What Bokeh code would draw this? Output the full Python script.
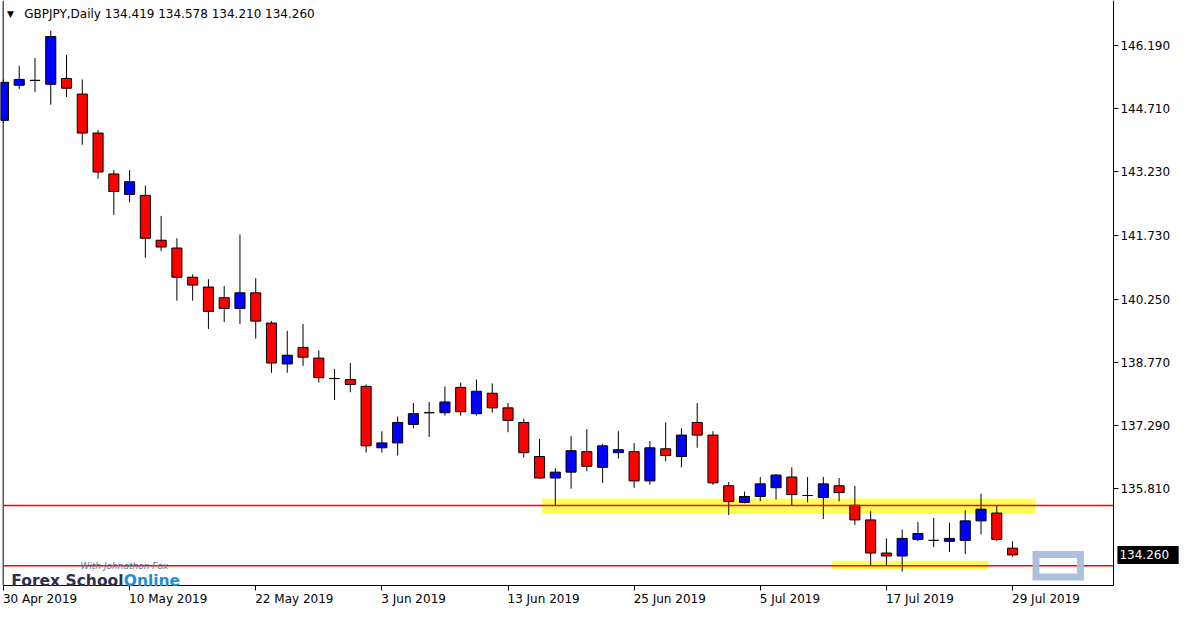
from bokeh.plotting import figure
from bokeh.models import (ColumnDataSource, Range1d, FixedTicker, PrintfTickFormatter,
                          CustomJSTickFormatter, Label)
from bokeh.embed import file_html
from bokeh.resources import INLINE

# ---------------- data ----------------
symbol_title = "GBPJPY,Daily  134.419 134.578 134.210 134.260"
date_labels = ["30 Apr 2019", "10 May 2019", "22 May 2019", "3 Jun 2019", "13 Jun 2019",
               "25 Jun 2019", "5 Jul 2019", "17 Jul 2019", "29 Jul 2019"]
date_ticks = [0, 8, 16, 24, 32, 40, 48, 56, 64]
price_ticks = [146.190, 144.710, 143.230, 141.730, 140.250, 138.770, 137.290, 135.810]
last_price = 134.260

opens = [144.432, 145.253, 145.367, 145.276, 145.412, 145.047, 144.135, 143.177, 142.698, 142.675,
         141.626, 141.444, 140.760, 140.531, 140.281, 140.030, 140.395, 139.688, 138.730, 139.117,
         138.867, 138.388, 138.365, 138.205, 136.768, 136.882, 137.315, 137.589, 137.589, 138.182,
         137.566, 138.045, 137.703, 137.361, 136.563, 136.061, 136.198, 136.677, 136.312, 136.654,
         136.677, 135.993, 136.745, 136.563, 137.361, 137.065, 135.879, 135.491, 135.628, 135.833,
         136.084, 135.651, 135.605, 135.879, 135.423, 135.080, 134.305, 134.236, 134.624, 134.601,
         134.579, 134.601, 135.058, 135.240, 134.419]
highs = [145.390, 145.709, 145.891, 146.530, 145.960, 145.390, 144.204, 143.268, 143.268, 142.904,
         142.196, 141.672, 140.828, 140.714, 140.554, 141.763, 140.737, 139.733, 139.505, 139.665,
         139.049, 138.616, 138.752, 138.251, 137.156, 137.498, 137.817, 137.840, 138.205, 138.296,
         138.365, 138.274, 137.817, 137.452, 136.973, 136.289, 137.042, 137.202, 136.859, 137.156,
         136.882, 136.928, 137.361, 137.224, 137.817, 137.156, 135.970, 135.742, 136.084, 136.152,
         136.312, 136.084, 136.084, 136.061, 135.879, 135.286, 134.647, 134.852, 135.035, 135.126,
         135.012, 135.308, 135.696, 135.423, 134.578]
lows = [144.386, 145.162, 145.093, 144.797, 144.979, 143.861, 143.063, 142.219, 142.516, 141.216,
        141.375, 140.212, 140.212, 139.551, 139.710, 139.665, 139.323, 138.524, 138.524, 138.684,
        138.296, 137.886, 138.068, 136.654, 136.654, 136.586, 137.224, 137.019, 137.521, 137.521,
        137.521, 137.589, 137.133, 136.540, 136.038, 135.423, 135.810, 136.221, 135.947, 136.517,
        135.833, 135.901, 136.449, 136.312, 136.768, 135.901, 135.194, 135.468, 135.514, 135.559,
        135.423, 135.491, 135.103, 135.514, 134.966, 134.008, 134.008, 133.872, 134.579, 134.442,
        134.328, 134.282, 134.738, 134.579, 134.210]
closes = [145.321, 145.390, 145.367, 146.393, 145.184, 144.135, 143.223, 142.767, 142.995, 141.672,
          141.467, 140.760, 140.577, 139.961, 140.030, 140.395, 139.733, 138.752, 138.935, 138.889,
          138.410, 138.388, 138.251, 136.814, 136.882, 137.361, 137.566, 137.589, 137.840, 137.612,
          138.091, 137.703, 137.407, 136.654, 136.061, 136.198, 136.700, 136.335, 136.814, 136.723,
          135.993, 136.768, 136.586, 137.065, 137.065, 135.947, 135.514, 135.628, 135.924, 136.130,
          135.673, 135.651, 135.924, 135.719, 135.080, 134.305, 134.236, 134.647, 134.761, 134.601,
          134.647, 135.058, 135.331, 134.624, 134.260]

hline_levels = [135.417, 134.008]
zone_left = [34.17, 52.56]
zone_right = [65.44, 62.45]
zone_bottom = [135.217, 133.917]
zone_top = [135.582, 134.122]

# ---------------- scales (reference pixel -> data) ----------------
BAR_PX = 15.98          # reference pixels per bar
PRICE_PER_PX = 0.022808  # reference price per pixel
TOP_PRICE = 147.237
REF_W, REF_H = 1200, 627
W, H = 1184, 611


def xd(px):
    return (px - 3.0) / BAR_PX


def yd(py):
    return TOP_PRICE - PRICE_PER_PX * py


FONT = "DejaVu Sans"
CHART_LEFT, CHART_RIGHT, CHART_BOTTOM = xd(2.7), xd(1128), yd(600)

p = figure(width=W, height=H,
           x_range=Range1d(xd(0), xd(REF_W)),
           y_range=Range1d(yd(REF_H), yd(0)),
           y_axis_location="right",
           output_backend="svg", toolbar_location=None,
           min_border_left=0, min_border_right=0, min_border_top=0, min_border_bottom=0)
p.background_fill_color = "white"
p.border_fill_color = "white"
p.outline_line_color = None
p.grid.visible = False

# price axis (fixed at the chart's right edge)
ya = p.yaxis[0]
ya.fixed_location = CHART_RIGHT
ya.bounds = (CHART_BOTTOM, yd(0))
ya.ticker = FixedTicker(ticks=price_ticks)
ya.formatter = PrintfTickFormatter(format="%.3f")
ya.major_tick_out = 5
ya.major_tick_in = 0
ya.minor_tick_line_color = None
ya.major_label_standoff = 2
ya.major_label_text_font = FONT
ya.major_label_text_font_size = "12px"
ya.major_label_text_color = "black"
ya.axis_line_color = "black"
ya.major_tick_line_color = "black"

# time axis: tick marks as minor ticks at the bars, labels left-aligned to them
char_w = {d: 0.6362 for d in "0123456789"}
char_w.update({" ": 0.3179, "A": 0.6841, "p": 0.6348, "r": 0.4111, "M": 0.8628, "a": 0.6128,
               "y": 0.5918, "J": 0.2949, "u": 0.6338, "n": 0.6338, "l": 0.2778})
px_per_bar = W / (xd(REF_W) - xd(0))
label_centers = [t + (sum(char_w.get(c, 0.6) for c in s) * 12 / 2 - 0.5) / px_per_bar
                 for t, s in zip(date_ticks, date_labels)]

xa = p.xaxis[0]
xa.fixed_location = CHART_BOTTOM
xa.bounds = (CHART_LEFT, CHART_RIGHT)
xa.ticker = FixedTicker(ticks=label_centers, minor_ticks=date_ticks)
xa.formatter = CustomJSTickFormatter(args=dict(labels=date_labels), code="return labels[index]")
xa.major_tick_line_color = None
xa.minor_tick_line_color = "black"
xa.minor_tick_out = 5
xa.minor_tick_in = 0
xa.major_label_standoff = 1
xa.major_label_text_font = FONT
xa.major_label_text_font_size = "12px"
xa.major_label_text_color = "black"
xa.axis_line_color = "black"

# left border of the chart
p.segment(x0=[CHART_LEFT], y0=[CHART_BOTTOM], x1=[CHART_LEFT], y1=[yd(0)],
          line_color="black", line_width=1)

# support / resistance zones
p.quad(left=zone_left, right=zone_right, bottom=zone_bottom, top=zone_top,
       fill_color="#ffff55", line_color=None)

# candles
idx = list(range(len(opens)))
colors = ["#0000ff" if c > o else "#ff0000" for o, c in zip(opens, closes)]
src = ColumnDataSource(dict(x=idx, open=opens, high=highs, low=lows, close=closes,
                            top=[max(o, c) for o, c in zip(opens, closes)],
                            bottom=[min(o, c) for o, c in zip(opens, closes)],
                            color=colors))
p.segment(x0="x", y0="low", x1="x", y1="high", source=src, line_color="black", line_width=1)
p.vbar(x="x", width=0.64, top="top", bottom="bottom", source=src,
       fill_color="color", line_color="black", line_width=1)

# horizontal levels (only across the chart area)
for lv in hline_levels:
    p.line(x=[CHART_LEFT, CHART_RIGHT], y=[lv, lv], line_color="red", line_width=1.5)

# box object near the last bar
p.quad(left=[xd(1049.5)], right=[xd(1094.5)], bottom=[yd(591.5)], top=[yd(568.5)],
       fill_color=None, line_color="#a8bddc", line_width=7, line_join="miter", line_alpha=0.95)

# title
p.add_layout(Label(x=xd(6.5), y=yd(14), text="\u25bc", text_font=FONT, text_font_size="9px",
                   text_baseline="middle", text_align="left", text_color="black"))
p.add_layout(Label(x=xd(24), y=yd(14), text=symbol_title, text_font=FONT,
                   text_font_size="12px", text_baseline="middle", text_align="left",
                   text_color="black"))

# current price tag
p.add_layout(Label(x=xd(1132), y=last_price, text=" %.3f " % last_price, text_font=FONT,
                   text_font_size="12px", text_baseline="middle", text_align="left",
                   text_color="white", background_fill_color="black", padding=2))

# watermark logo text
LOGO_PX = 15.5
bold_w = {"F": 0.575, "o": 0.687, "r": 0.493, "e": 0.678, "x": 0.663, " ": 0.348, "S": 0.720,
          "c": 0.593, "h": 0.712, "l": 0.343}
first_word = "Forex School"
first_w_px = sum(bold_w[c] for c in first_word) * LOGO_PX
p.add_layout(Label(x=xd(81), y=yd(580), text="With Johnathon Fox", text_font=FONT,
                   text_font_size="9px", text_font_style="italic", text_color="#6a6e8c",
                   text_baseline="alphabetic"))
p.add_layout(Label(x=xd(11), y=yd(595.7), text=first_word, text_font=FONT,
                   text_font_size="%.1fpx" % LOGO_PX, text_font_style="bold", text_color="#2e3050",
                   text_baseline="alphabetic"))
p.add_layout(Label(x=xd(11) + (first_w_px + 1) / px_per_bar, y=yd(595.7), text="Online",
                   text_font=FONT, text_font_size="%.1fpx" % LOGO_PX, text_font_style="bold",
                   text_color="#1e8fd6", text_baseline="alphabetic"))

open("out.html", "w").write(file_html(p, INLINE))
